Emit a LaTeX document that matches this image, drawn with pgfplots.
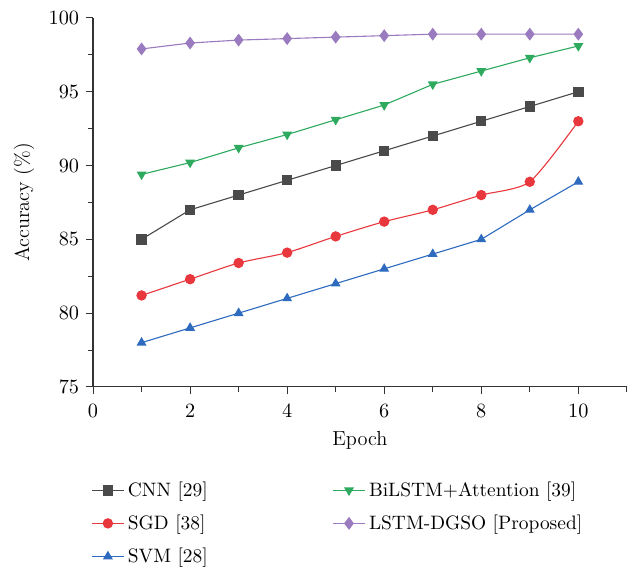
\documentclass[border=0pt]{standalone}
\usepackage{pgfplots}
\pgfplotsset{compat=1.18}
\definecolor{cnn}{HTML}{4A4A4A}
\definecolor{sgd}{HTML}{E8383D}
\definecolor{svm}{HTML}{2E6BBF}
\definecolor{bil}{HTML}{2EAA5F}
\definecolor{dgso}{HTML}{9B7BBF}
\begin{document}
\begin{tikzpicture}
\useasboundingbox (-50.3pt,-97.3pt) rectangle (293pt,209.2pt);
\begin{axis}[
  scale only axis,
  width=288.6pt, height=199.5pt,
  xmin=0, xmax=11, ymin=75, ymax=100,
  axis lines*=left,
  xtick={0,2,...,10}, minor xtick={1,3,...,11},
  ytick={75,80,...,100}, minor ytick={77.5,82.5,...,97.5},
  tick align=outside,
  major tick length=4pt, minor tick length=2.5pt,
  tick style={black!80, line width=0.5pt},
  axis line style={black!80, line width=0.6pt},
  tick label style={font=\fontsize{11}{13}\selectfont},
  label style={font=\fontsize{11}{13}\selectfont},
  xticklabel shift=2pt,
  xlabel={Epoch}, ylabel={Accuracy (\%)},
  xlabel style={yshift=-0.5pt},
  ylabel style={yshift=1pt},
  every axis plot/.append style={line width=0.6pt, mark size=2.5pt},
  legend columns=2,
  legend cell align=left,
  legend style={draw=none, at={(rel axis cs:0,0)}, anchor=north west,
    xshift=-4pt, yshift=-47pt, row sep=4.5pt, font=\fontsize{10.5}{12}\selectfont,
    /tikz/column 2/.style={column sep=65.5pt}},
]
\addplot[cnn, mark=square*] coordinates {
(1,85) (2,87) (3,88) (4,89) (5,90) (6,91) (7,92) (8,93) (9,94) (10,95)};
\addlegendentry{CNN [29]}
\addplot[bil, mark=triangle*, mark options={rotate=180}] coordinates {
(1,89.4) (2,90.2) (3,91.2) (4,92.1) (5,93.1) (6,94.1) (7,95.5) (8,96.4) (9,97.3) (10,98.1)};
\addlegendentry{BiLSTM+Attention [39]}
\addplot[sgd, mark=*, smooth, tension=0.4] coordinates {
(1,81.2) (2,82.3) (3,83.4) (4,84.1) (5,85.2) (6,86.2) (7,87) (8,88) (9,88.9) (10,93)};
\addlegendentry{SGD [38]}
\addplot[dgso, mark=diamond*, mark size=3pt] coordinates {
(1,97.9) (2,98.3) (3,98.5) (4,98.6) (5,98.7) (6,98.8) (7,98.9) (8,98.9) (9,98.9) (10,98.9)};
\addlegendentry{LSTM-DGSO [Proposed]}
\addplot[svm, mark=triangle*] coordinates {
(1,78) (2,79) (3,80) (4,81) (5,82) (6,83) (7,84) (8,85) (9,87) (10,88.9)};
\addlegendentry{SVM [28]}
\end{axis}
\end{tikzpicture}
\end{document}
